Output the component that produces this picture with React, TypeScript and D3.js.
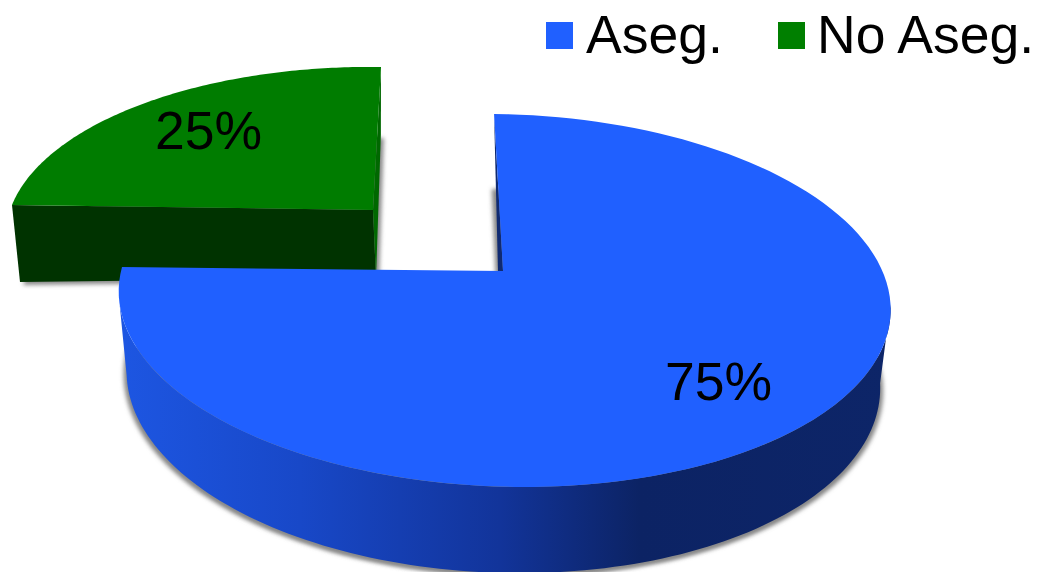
import React from "react";
import * as d3 from "d3";

const categories = ["Aseg.", "No Aseg."];
const values = [75, 25];
const topColors = ["#2060ff", "#007c00"];
const legendColors = ["#2060ff", "#007f00"];
const sideStops = [
  { x: 120, c: "#1d56e2" },
  { x: 300, c: "#1848c8" },
  { x: 500, c: "#12349a" },
  { x: 640, c: "#0c2364" },
  { x: 890, c: "#0d2568" },
];

type P = { X0: number; Y0: number; a: number; b: number; k: number; s: number; r: number };
const project = (p: P, u: number, v: number): [number, number] => {
  const d = 1 - p.k * v;
  const x = (p.a * u) / d;
  const y = (p.b * v) / d;
  return [p.X0 + x + p.s * y, p.Y0 + y + p.r * x];
};
const rim = (p: P, ang: number) => project(p, Math.sin(ang), -Math.cos(ang));

const blueTop: P = { X0: 503, Y0: 271, a: 381, b: 181.8, k: 0.158, s: 0.057, r: 0.0105 };
const blueLow: P = { X0: 502, Y0: 349, a: 372, b: 188.7, k: 0.158, s: 0.045, r: 0.0105 };
const greenTop: P = { X0: 373, Y0: 210, a: 361, b: 165.6, k: 0.158, s: -0.056, r: 0.0139 };
const greenLow: P = { X0: 376, Y0: 278, a: 356, b: 165.6, k: 0.158, s: -0.034, r: -0.011 };
const blueApex: [number, number] = [503, 271];

const arcs = d3.pie<number>().sort(null)(values);
const line = d3.line();
const sweep = (p: P, a0: number, a1: number, n = 120) =>
  d3.range(n + 1).map((i) => rim(p, d3.scaleLinear().domain([0, n]).range([a0, a1])(i)));
const deg = (d: number) => (d * Math.PI) / 180;

export default function App() {
  const [blue, green] = arcs;
  const blueRim = sweep(blueTop, blue.startAngle, blue.endAngle);
  const greenRim = sweep(greenTop, green.startAngle, green.endAngle);
  const bandTop = sweep(blueTop, deg(99), deg(261));
  const bandLow = sweep(blueLow, deg(99), deg(261));
  const gLeftTop = rim(greenTop, green.startAngle);
  const gLeftLow = rim(greenLow, green.startAngle);
  const gRightTop = rim(greenTop, green.endAngle);
  const gRightLow = rim(greenLow, green.endAngle);
  const gApexTop: [number, number] = [greenTop.X0, greenTop.Y0];
  const gApexLow: [number, number] = [greenLow.X0, greenLow.Y0];
  const blueTopEnd = rim(blueTop, blue.startAngle);
  const blueShadow = [[blueLow.X0, blueLow.Y0] as [number, number], ...sweep(blueLow, blue.startAngle, blue.endAngle)];
  const greenShadow = [gApexLow, ...sweep(greenLow, green.startAngle, green.endAngle)];
  const font = "'Liberation Sans', Arial, sans-serif";
  return (
    <svg width={1038} height={572} style={{ position: "absolute", left: 0, top: 0, background: "#fff" }} fontFamily={font}>
      <defs>
        <linearGradient id="side" gradientUnits="userSpaceOnUse" x1={sideStops[0].x} x2={sideStops[sideStops.length - 1].x} y1={0} y2={0}>
          {sideStops.map((s) => (
            <stop key={s.x} offset={(s.x - 120) / 770} stopColor={s.c} />
          ))}
        </linearGradient>
        <filter id="blur" x="-5%" y="-5%" width="110%" height="110%">
          <feGaussianBlur stdDeviation={2.2} />
        </filter>
      </defs>
      <path d={line(greenShadow)! + "Z"} fill="#888" filter="url(#blur)" transform="translate(3,3)" />
      <path d={line(blueShadow)! + "Z"} fill="#888" filter="url(#blur)" transform="translate(-3,3)" />
      <path d={line(blueShadow)! + "Z"} fill="#888" filter="url(#blur)" transform="translate(3,3)" />
      <path d={line([gLeftTop, gApexTop, gApexLow, gLeftLow])! + "Z"} fill="#003300" />
      <path d={line([gRightTop, gRightLow, gApexLow, gApexTop])! + "Z"} fill="#006800" />
      <path d={line([gApexTop, ...greenRim])! + "Z"} fill={topColors[1]} />
      <path d={line([blueTopEnd, blueApex, [blueApex[0] - 5, blueApex[1]]])! + "Z"} fill="#0f2a72" />
      <path d={line([...bandTop, ...bandLow.slice().reverse()])! + "Z"} fill="url(#side)" />
      <path d={line([blueApex, ...blueRim])! + "Z"} fill={topColors[0]} />
      <text x={665} y={400} fontSize={53.5} fill="#000">{values[0]}%</text>
      <text x={155} y={149} fontSize={53.5} fill="#000">{values[1]}%</text>
      {categories.map((c, i) => {
        const sx = [546, 778][i];
        const tx = [586, 817][i];
        return (
          <g key={c}>
            <rect x={sx} y={22} width={27} height={27} fill={legendColors[i]} />
            <text x={tx} y={53} fontSize={53.5} fill="#000">{c}</text>
          </g>
        );
      })}
    </svg>
  );
}
